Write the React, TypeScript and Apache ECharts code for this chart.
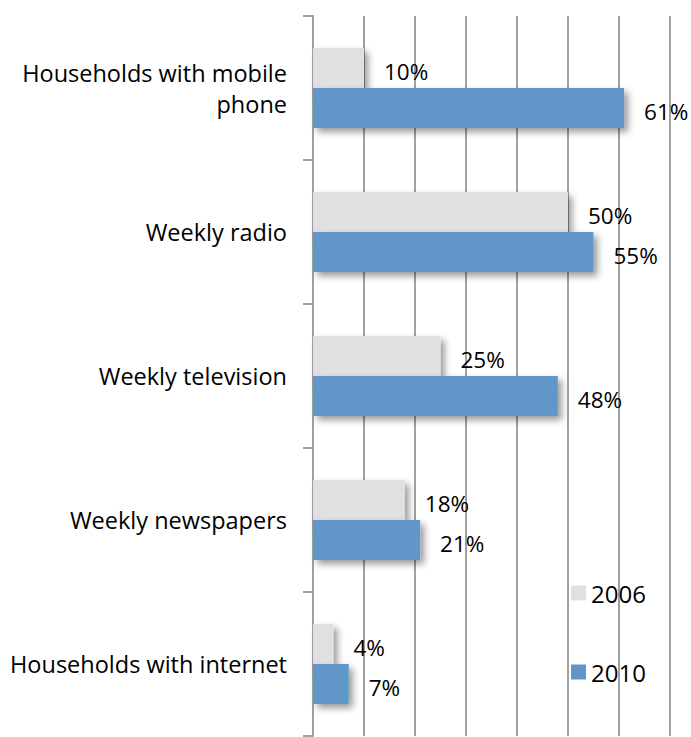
import React, { useEffect, useRef } from "react";
import * as echarts from "echarts";

const categories = [
  "Households with mobile\nphone",
  "Weekly radio",
  "Weekly television",
  "Weekly newspapers",
  "Households with internet",
];
const series2006 = [10, 50, 25, 18, 4];
const series2010 = [61, 55, 48, 21, 7];
const seriesNames = ["2006", "2010"];

const FONT = "Open Sans";

export default function App() {
  const ref = useRef<HTMLDivElement>(null);
  useEffect(() => {
    if (!ref.current) return;
    const chart = echarts.init(ref.current, null, { renderer: "svg" });
    const label = {
      show: true,
      position: "right",
      distance: 20,
      offset: [0, 3],
      formatter: "{c}%",
      color: "#000",
      fontFamily: FONT,
      fontSize: 22.5,
    };
    const shadow = {
      shadowBlur: 7,
      shadowOffsetX: 4,
      shadowOffsetY: 4,
      shadowColor: "rgba(0,0,0,0.4)",
    };
    chart.setOption({
      animation: false,
      backgroundColor: "#fff",
      grid: { left: 313, right: 21, top: 16, bottom: 1, containLabel: false },
      legend: {
        orient: "vertical",
        left: 566,
        top: 576,
        itemWidth: 15,
        itemHeight: 15,
        itemGap: 55,
        icon: "rect",
        textStyle: { fontFamily: FONT, fontSize: 24, color: "#000" },
        data: seriesNames,
      },
      xAxis: {
        type: "value",
        min: 0,
        max: 70,
        interval: 10,
        axisLabel: { show: false },
        axisLine: { show: false },
        axisTick: { show: false },
        splitLine: { show: true, lineStyle: { color: "#A0A0A0", width: 2 } },
      },
      yAxis: {
        type: "category",
        inverse: true,
        data: categories,
        axisLine: { show: true, lineStyle: { color: "#A0A0A0", width: 2 } },
        axisTick: { show: true, length: 10, inside: false, lineStyle: { color: "#A0A0A0", width: 2 } },
        axisLabel: {
          margin: 26,
          color: "#000",
          fontFamily: FONT,
          fontSize: 23.5,
          lineHeight: 31,
          align: "right",
          padding: [8, 0, 0, 0],
        },
      },
      series: [
        {
          name: seriesNames[0],
          type: "bar",
          data: series2006,
          barWidth: 40,
          barGap: "0%",
          itemStyle: { color: "#E0E0E0", ...shadow },
          label,
        },
        {
          name: seriesNames[1],
          type: "bar",
          data: series2010,
          barWidth: 40,
          barGap: "0%",
          itemStyle: { color: "#6097C8", ...shadow },
          label,
        },
      ],
    });
    return () => chart.dispose();
  }, []);
  return <div ref={ref} style={{ width: 691, height: 737, position: "absolute", left: 0, top: 0 }} />;
}
